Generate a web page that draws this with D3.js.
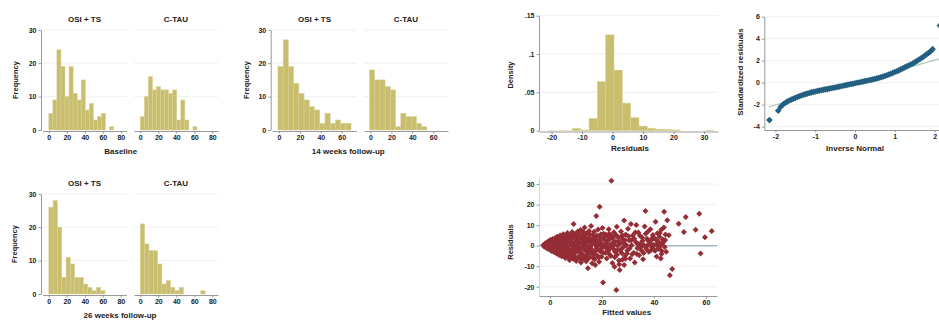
<!DOCTYPE html>
<html>
<head>
<meta charset="utf-8">
<script src="https://cdn.jsdelivr.net/npm/d3@7"></script>
<style>
  html, body { margin: 0; padding: 0; background: #fff; }
  svg { display: block; font-family: "Liberation Sans", Arial, sans-serif; font-weight: bold; }
</style>
</head>
<body>
<svg id="chart" width="939" height="323"></svg>
<script>
// ---------------- data ----------------
const groupNames = ["OSI + TS", "C-TAU"];
const freqTicks = [0, 10, 20, 30];

// frequency histograms: counts per bin, [bin start, bin width]
const baselineOsi = [5, 9, 24, 19, 10, 19, 11, 9, 15, 6, 8, 3, 4, 5, 0, 1];
const baselineCtau = [4, 10, 16, 12, 13, 12, 12, 11, 12, 3, 9, 3, 0, 1];
const baselineBins = [[0, 4.5], [0, 4.5]];
const baselineTicks = [0, 20, 40, 60, 80];

const week14Osi = [19, 27, 19, 14, 11, 9, 7, 6, 2, 5, 2, 3, 2, 2];
const week14Ctau = [18, 15, 15, 13, 12, 1, 5, 4, 4, 2, 1];
const week14Bins = [[-1, 5], [-1, 5]];
const week14Ticks = [0, 20, 40, 60];

const week26Osi = [26, 28, 20, 5, 11, 9, 5, 5, 3, 2, 1, 2, 1];
const week26Ctau = [21, 15, 13, 13, 9, 3, 4, 2, 1, 2, 0, 0, 0, 0, 1];
const week26Bins = [[0, 4.8], [0, 4.8]];
const week26Ticks = [0, 20, 40, 60, 80];

// density histogram of residuals
const residBinStart = -21.34;
const residBinWidth = 2.73;
const residDensity = [0.0004, 0.0004, 0.0006, 0.003, 0.001, 0.016, 0.064, 0.125, 0.079, 0.036,
                      0.017, 0.006, 0.003, 0.002, 0.0015, 0.001, 0, 0, 0, 0.0008];
const densityTicks = [0, 0.05, 0.1, 0.15];
const densityTickLabels = ["0", ".05", ".1", ".15"];
const residTicks = [-20, -10, 0, 10, 20, 30];

// normal probability plot: [inverse normal, standardized residual]
const qqPoints = [
  [-2.15, -3.4], [-1.93, -2.55], [-1.87, -2.2],
  [-1.80, -1.95], [-1.75, -1.82], [-1.70, -1.72], [-1.65, -1.62], [-1.60, -1.54], [-1.55, -1.46],
  [-1.50, -1.38], [-1.45, -1.30], [-1.40, -1.23], [-1.35, -1.16], [-1.30, -1.10], [-1.25, -1.04],
  [-1.20, -0.98], [-1.15, -0.93], [-1.10, -0.88], [-1.05, -0.84], [-1.00, -0.80], [-0.95, -0.76],
  [-0.90, -0.72], [-0.85, -0.68], [-0.80, -0.65], [-0.75, -0.61], [-0.70, -0.58], [-0.65, -0.54],
  [-0.60, -0.50], [-0.55, -0.47], [-0.50, -0.43], [-0.45, -0.40], [-0.40, -0.36], [-0.35, -0.32],
  [-0.30, -0.28], [-0.25, -0.24], [-0.20, -0.20], [-0.15, -0.16], [-0.10, -0.12], [-0.05, -0.09],
  [0.00, -0.05], [0.05, -0.01], [0.10, 0.02], [0.15, 0.06], [0.20, 0.10], [0.25, 0.14],
  [0.30, 0.18], [0.35, 0.22], [0.40, 0.26], [0.45, 0.30], [0.50, 0.34], [0.55, 0.39],
  [0.60, 0.44], [0.65, 0.49], [0.70, 0.55], [0.75, 0.61], [0.80, 0.68], [0.85, 0.75],
  [0.90, 0.82], [0.95, 0.89], [1.00, 0.97], [1.05, 1.04], [1.10, 1.12], [1.15, 1.21],
  [1.20, 1.30], [1.25, 1.39], [1.30, 1.48], [1.35, 1.57], [1.40, 1.66], [1.45, 1.75],
  [1.50, 1.85], [1.55, 1.96], [1.60, 2.08], [1.65, 2.20], [1.70, 2.32], [1.75, 2.45],
  [1.80, 2.58], [1.85, 2.71], [1.90, 2.85], [1.95, 3.05], [2.13, 5.2]
];
const qqLine = [[-2.17, -2.2], [2.3, 2.35]];
const qqXTicks = [-2, -1, 0, 1, 2];
const qqYTicks = [-4, -2, 0, 2, 4, 6];

// residuals versus fitted values: [fitted, residual]
const rvfPoints = [
  [-2.6, 0.3], [-2.2, -0.5], [-2.0, 0.9], [-1.8, -0.2], [-1.5, 1.3], [-1.4, -1.0], [-1.2, 0.4], [-1.0, 1.8],
  [-0.9, -1.5], [-0.7, 0.0], [-0.5, 2.2], [-0.4, -0.7], [-0.2, 1.0], [0.0, -2.0], [0.1, 2.8], [0.3, -0.3],
  [0.5, 1.5], [0.6, -2.6], [0.8, 0.6], [1.0, 3.2],
  [1.1, -1.4], [1.3, 2.1], [1.5, -3.1], [1.7, 0.2], [1.9, 3.6], [2.1, -0.9], [2.3, 1.4], [2.5, -3.8],
  [2.7, 4.3], [2.9, -2.0], [3.1, 0.8], [3.3, 2.7], [3.5, -4.5], [3.7, -0.4], [3.9, 4.9], [4.1, 1.9],
  [4.3, -2.9], [4.5, -5.2], [4.7, 3.4], [4.9, 0.0],
  [5.1, 5.6], [5.3, -1.7], [5.5, -4.0], [5.7, 2.2], [5.9, -6.0], [6.1, 0.9], [6.3, 4.4], [6.5, -2.9],
  [6.7, 6.2], [6.9, -0.6], [7.1, -5.3], [7.3, 2.9], [7.5, -7.0], [7.7, 1.3], [7.9, 5.0], [8.1, -3.6],
  [8.3, 0.2], [8.5, 6.7], [8.7, -1.9], [8.9, -6.4], [9.1, 3.8], [9.1, 10.6], [9.3, -4.6], [9.5, 1.1],
  [9.7, 5.8], [9.9, -0.9],
  [10.1, -7.4], [10.3, 2.5], [10.5, -3.0], [10.7, 6.9], [10.9, 0.4], [11.1, -5.4], [11.3, 4.0], [11.5, -1.6],
  [11.7, 7.6], [11.9, -8.2], [12.1, 1.8], [12.3, -3.9], [12.5, 5.1], [12.7, -0.3], [12.9, -6.3], [13.1, 3.0],
  [13.3, 8.8], [13.5, -2.2], [13.7, 0.9], [13.9, -7.6], [14.1, 5.9], [14.3, -4.4], [14.5, 2.1], [14.6, -11.0],
  [14.8, -0.9], [15.0, 7.2],
  [15.2, -5.8], [15.4, 3.5], [15.6, -2.6], [15.8, 9.6], [16.0, 0.6], [16.2, -8.6], [16.4, 5.3], [16.6, -3.8],
  [16.8, 1.7], [17.0, 6.8], [17.2, -6.6], [17.4, -9.4], [17.6, 3.0], [17.8, 14.5], [17.9, -1.2], [18.1, 4.9],
  [18.3, -4.9], [18.5, 7.9], [18.7, 0.3], [18.9, -7.8], [19.1, 19.0], [19.2, 2.6], [19.4, -2.8], [19.6, 5.6],
  [19.8, -5.4], [20.0, 1.0], [20.2, 8.6], [20.4, -17.9], [20.5, -3.4], [20.7, 3.9],
  [0.2, 0.9], [1.2, -0.4], [2.0, 2.5], [2.6, -1.8], [3.4, 1.1], [4.0, -1.3], [4.6, 1.0], [5.2, -2.8],
  [5.8, 3.5], [6.4, -0.8], [7.0, 2.0], [7.6, -2.5], [8.0, 3.7], [8.6, -4.6], [9.0, -0.4], [9.6, -3.0],
  [10.2, 4.5], [10.6, -1.2], [11.2, 1.6], [11.8, -4.8], [12.4, 3.5], [13.0, -1.6], [13.6, 5.0], [14.2, -2.8],
  [14.9, 3.6], [15.5, -0.5], [16.3, 2.6], [17.1, -4.0], [17.7, 0.5], [18.6, -2.0], [19.5, 0.7], [6.0, -4.8],
  [8.2, -6.0], [11.0, 6.0], [12.0, -6.8], [13.8, 2.4], [16.6, -6.0], [4.4, 3.0], [3.0, -3.4], [7.4, 4.6],
  [9.8, 1.9], [10.8, -5.8], [5.0, -0.6], [2.2, 0.0], [15.0, -3.9], [16.9, 4.0],
  [-1.6, 0.6], [-0.8, -0.9], [0.4, 1.9], [0.9, -1.8], [1.6, 1.0], [1.8, -2.4], [2.8, 2.0], [3.2, -1.2],
  [3.6, 3.6], [3.8, -2.2], [4.2, -3.8], [4.8, 4.2], [5.4, 1.2], [5.6, -5.2], [6.2, 2.9], [6.6, -3.6],
  [6.8, 5.2], [7.2, -1.6], [7.8, -4.4], [8.4, 1.8], [8.8, 5.0], [9.2, -2.6], [9.4, -5.8], [10.4, 0.0],
  [10.9, 3.2], [11.4, -2.8], [11.6, 5.0], [12.2, -0.9], [12.6, -4.6], [12.8, 6.8], [13.2, 1.6], [13.4, -5.2],
  [14.0, 3.2], [14.4, -0.4], [14.7, -6.2], [15.3, 5.6], [15.7, 1.2], [16.1, -2.0], [16.7, -4.8], [17.3, 1.0],
  [17.5, -2.6], [18.0, -0.5], [18.4, 2.2], [18.8, -5.6], [19.3, 4.0], [19.7, -1.5], [20.3, -0.2], [20.6, 5.8],
  [21.2, -0.8], [21.5, 5.4], [21.8, -6.2], [22.0, 2.2], [22.3, -2.6], [22.6, 8.0], [22.9, -4.3], [23.2, 0.6],
  [23.6, 31.6], [23.8, 4.6], [24.0, -8.4], [24.3, -1.4], [24.6, 6.5], [24.9, -5.6], [25.2, 2.0], [25.5, -21.6],
  [25.7, 9.2], [25.9, -2.2], [26.2, 4.0], [26.5, -7.2], [26.8, -11.9], [27.0, 1.2], [27.3, 6.9], [27.6, -3.6],
  [27.9, 3.0], [28.2, -0.8], [28.5, 12.2], [28.5, -9.4], [28.8, -5.0], [29.1, 5.4], [29.4, 0.2], [29.7, -2.4],
  [30.0, 8.2], [21.0, 2.8], [22.2, -1.0], [23.0, 3.2], [24.4, 1.8], [25.0, -3.0], [26.0, 0.0], [27.2, -1.8],
  [28.0, 4.8], [29.0, -6.4], [24.8, -10.2], [26.6, -9.0], [22.8, 5.8],
  [21.4, -3.5], [21.7, 1.0], [22.4, 4.2], [22.7, -2.0], [23.4, -5.0], [23.6, -0.2], [24.2, 3.8], [24.7, 0.4],
  [25.4, 5.2], [25.8, -4.4], [26.4, 2.0], [26.9, -2.4], [27.5, 4.6], [27.8, -6.8], [28.4, 1.2], [28.9, 2.8],
  [29.6, -3.8], [30.2, 4.6], [30.6, -1.4], [31.2, 2.6], [31.6, -4.2], [32.4, 3.4], [32.8, 6.4], [33.4, -4.0],
  [33.8, 0.8], [34.6, 4.8], [35.0, -0.6], [35.6, 2.4], [36.0, -3.6], [36.8, 5.8], [37.4, 0.0], [37.8, 2.4],
  [38.8, -2.2], [39.4, 3.8], [40.9, 2.8], [41.4, -0.2], [42.2, 6.2], [42.9, -4.0], [43.6, 1.8], [44.3, 2.8],
  [30.4, 2.6], [30.8, -6.2], [31.1, 10.6], [31.4, 0.2], [31.8, 5.0], [32.2, -3.4], [32.6, -8.2], [33.0, 1.8],
  [33.2, 10.1], [33.6, -1.2], [34.0, 6.4], [34.3, -4.6], [34.7, 1.0], [35.1, -2.2], [35.4, 4.0], [35.8, -6.6],
  [36.2, 0.2], [36.4, 9.3], [36.7, 16.9], [37.0, -1.6], [37.3, 3.4], [37.6, 6.8], [38.0, -3.0],
  [38.3, 1.0], [38.6, 8.0], [39.0, 2.6], [39.2, -0.8], [39.6, 5.2], [40.0, -2.0], [40.2, 3.6], [40.6, 11.7],
  [40.8, 0.4], [41.0, -5.3], [41.3, 6.0], [41.6, 2.0], [41.8, -1.5], [42.1, 4.4], [42.4, -0.2], [42.6, -6.2],
  [42.8, 7.8], [43.1, 1.0], [43.4, 3.0], [43.8, 8.8], [43.9, 16.5], [44.1, -0.6], [44.4, 5.5], [44.7, -3.0],
  [45.1, 12.4], [45.7, 5.1], [46.1, -14.4], [47.0, -11.4], [40.4, -2.5], [39.8, 0.5], [42.0, 1.2], [43.0, -2.6],
  [49.5, 10.7], [51.5, 6.7], [52.2, 14.0], [56.0, 7.8], [57.4, 15.6], [57.9, -3.8], [59.6, 4.1], [62.2, 7.1]
];
const fittedTicks = [0, 20, 40, 60];
const rvfResidTicks = [-20, -10, 0, 10, 20, 30];

// ---------------- drawing ----------------
const svg = d3.select("#chart");
const C = {
  bar: "#c9bd6e", barEdge: "#dad198", axis: "#808080", grid: "#ececec",
  text: "#222", qq: "#235f80", qqLine: "#9fbba9", rvf: "#952d36", zero: "#a7b8c4"
};

function styleAxis(sel, fontSize) {
  sel.attr("font-family", null).attr("font-size", null);
  sel.select(".domain").attr("stroke", C.axis).attr("stroke-width", 0.8);
  sel.selectAll(".tick line").attr("stroke", C.axis).attr("stroke-width", 0.8);
  sel.selectAll(".tick text").attr("fill", C.text)
     .style("font-size", fontSize + "px").style("font-weight", "bold");
}

function label(x, y, text, size, rotate) {
  const t = svg.append("text")
    .attr("text-anchor", "middle").attr("fill", C.text)
    .style("font-size", size + "px").style("font-weight", "bold").text(text);
  if (rotate) t.attr("transform", `translate(${x},${y}) rotate(-90)`);
  else t.attr("x", x).attr("y", y);
  return t;
}

function diamond(r) {
  return `M0,${-r}L${r},0L0,${r}L${-r},0Z`;
}

function frequencyPanel(p) {
  const y = d3.scaleLinear().domain([0, 30]).range([p.y0, p.y0 - 100.2]);
  const ya = svg.append("g").attr("transform", `translate(${p.axisX},0)`)
    .call(d3.axisLeft(y).tickValues(freqTicks).tickSize(2.5).tickPadding(2).tickSizeOuter(0));
  styleAxis(ya, 7);

  p.subplots.forEach((sp, i) => {
    const x = d3.scaleLinear().domain(p.xDomain).range([sp.left, sp.left + p.width]);
    svg.append("g").selectAll("line").data(freqTicks.filter(t => t > 0)).join("line")
      .attr("x1", sp.left).attr("x2", sp.left + p.width)
      .attr("y1", d => y(d)).attr("y2", d => y(d))
      .attr("stroke", C.grid).attr("stroke-width", 0.8);
    const [start, w] = sp.bins;
    const bars = sp.counts.map((c, k) => ({ c, k })).filter(d => d.c > 0);
    svg.append("g").selectAll("rect").data(bars).join("rect")
      .attr("x", d => x(start + d.k * w))
      .attr("width", d => x(start + (d.k + 1) * w) - x(start + d.k * w))
      .attr("y", d => y(d.c))
      .attr("height", d => y(0) - y(d.c))
      .attr("fill", C.bar).attr("stroke", C.barEdge).attr("stroke-width", 0.5);
    const xa = svg.append("g").attr("transform", `translate(0,${p.y0 + 1})`)
      .call(d3.axisBottom(x).tickValues(p.xTicks).tickSize(2.5).tickPadding(1.5).tickSizeOuter(0));
    styleAxis(xa, 7);
    label(sp.left + p.width / 2, y(30) - 8, groupNames[i], 8);
  });
  label(p.xTitleX, p.y0 + 24, p.xTitle, 8);
  label(p.yTitleX, p.y0 - 50, "Frequency", 7.5, true);
}

frequencyPanel({
  y0: 130, axisX: 41, xDomain: [-7, 86.33], width: 84, xTicks: baselineTicks,
  subplots: [
    { left: 42.5, counts: baselineOsi, bins: baselineBins[0] },
    { left: 134, counts: baselineCtau, bins: baselineBins[1] }
  ],
  xTitle: "Baseline", xTitleX: 120.7, yTitleX: 17.7
});

frequencyPanel({
  y0: 130, axisX: 270.7, xDomain: [-6.2, 74.2], width: 84, xTicks: week14Ticks,
  subplots: [
    { left: 272.5, counts: week14Osi, bins: week14Bins[0] },
    { left: 364, counts: week14Ctau, bins: week14Bins[1] }
  ],
  xTitle: "14 weeks follow-up", xTitleX: 348.3, yTitleX: 249.4
});

frequencyPanel({
  y0: 294, axisX: 41, xDomain: [-7, 86.33], width: 84, xTicks: week26Ticks,
  subplots: [
    { left: 42.5, counts: week26Osi, bins: week26Bins[0] },
    { left: 134, counts: week26Ctau, bins: week26Bins[1] }
  ],
  xTitle: "26 weeks follow-up", xTitleX: 120, yTitleX: 16.7
});

// ---- density of residuals ----
(function () {
  const x = d3.scaleLinear().domain([-24.1, 34.6]).range([539, 718]);
  const y = d3.scaleLinear().domain([0, 0.15]).range([130.7, 15.7]);
  svg.append("g").selectAll("line").data(densityTicks.filter(t => t > 0)).join("line")
    .attr("x1", 539).attr("x2", 718).attr("y1", d => y(d)).attr("y2", d => y(d))
    .attr("stroke", C.grid).attr("stroke-width", 0.8);
  const bars = residDensity.map((v, k) => ({ v, k })).filter(d => d.v > 0);
  svg.append("g").selectAll("rect").data(bars).join("rect")
    .attr("x", d => x(residBinStart + d.k * residBinWidth))
    .attr("width", d => x(residBinStart + (d.k + 1) * residBinWidth) - x(residBinStart + d.k * residBinWidth))
    .attr("y", d => y(d.v)).attr("height", d => y(0) - y(d.v))
    .attr("fill", C.bar).attr("stroke", d => d.v < 0.001 ? "none" : C.barEdge).attr("stroke-width", 0.5);
  const ya = svg.append("g").attr("transform", "translate(539,0)")
    .call(d3.axisLeft(y).tickValues(densityTicks).tickFormat((d, i) => densityTickLabels[i])
      .tickSize(2.5).tickPadding(2).tickSizeOuter(0));
  styleAxis(ya, 7);
  const xa = svg.append("g").attr("transform", "translate(0,131.5)")
    .call(d3.axisBottom(x).tickValues(residTicks).tickFormat(d => String(d))
      .tickSize(2.5).tickPadding(1.5).tickSizeOuter(0));
  styleAxis(xa, 7);
  label(630, 150.5, "Residuals", 8);
  label(513, 75, "Density", 7.5, true);
})();

// ---- normal probability plot ----
(function () {
  const x = d3.scaleLinear().domain([-2.279, 2.261]).range([764.3, 945]);
  const y = d3.scaleLinear().domain([-4.3, 6]).range([130, 16.7]);
  svg.append("g").selectAll("line").data(qqYTicks).join("line")
    .attr("x1", 764.3).attr("x2", 945).attr("y1", d => y(d)).attr("y2", d => y(d))
    .attr("stroke", C.grid).attr("stroke-width", 0.8);
  svg.append("line")
    .attr("x1", x(qqLine[0][0])).attr("y1", y(qqLine[0][1]))
    .attr("x2", x(qqLine[1][0])).attr("y2", y(qqLine[1][1]))
    .attr("stroke", C.qqLine).attr("stroke-width", 1);
  svg.append("g").selectAll("path").data(qqPoints).join("path")
    .attr("d", diamond(3.3))
    .attr("transform", d => `translate(${x(d[0])},${y(d[1])})`)
    .attr("fill", C.qq);
  const ya = svg.append("g").attr("transform", "translate(764.3,0)")
    .call(d3.axisLeft(y).tickValues(qqYTicks).tickFormat(d => String(d))
      .tickSize(2.5).tickPadding(2).tickSizeOuter(0));
  styleAxis(ya, 7);
  const xa = svg.append("g").attr("transform", "translate(0,130)")
    .call(d3.axisBottom(x).tickValues(qqXTicks).tickFormat(d => String(d))
      .tickSize(2.5).tickPadding(1.5).tickSizeOuter(0));
  styleAxis(xa, 7);
  label(855, 150.5, "Inverse Normal", 8);
  label(743, 72, "Standardized residuals", 8, true);
})();

// ---- residuals versus fitted values ----
(function () {
  const x = d3.scaleLinear().domain([-4.23, 64.23]).range([539, 717]);
  const y = d3.scaleLinear().domain([-24.5, 33]).range([296, 177.9]);
  svg.append("g").selectAll("line").data(rvfResidTicks.filter(t => t !== 0)).join("line")
    .attr("x1", 539).attr("x2", 717).attr("y1", d => y(d)).attr("y2", d => y(d))
    .attr("stroke", C.grid).attr("stroke-width", 0.8);
  svg.append("line")
    .attr("x1", 539).attr("x2", 717).attr("y1", y(0)).attr("y2", y(0))
    .attr("stroke", C.zero).attr("stroke-width", 1.5);
  svg.append("g").selectAll("path").data(rvfPoints).join("path")
    .attr("d", diamond(3.0))
    .attr("transform", d => `translate(${x(d[0])},${y(d[1])})`)
    .attr("fill", C.rvf);
  const ya = svg.append("g").attr("transform", "translate(539,0)")
    .call(d3.axisLeft(y).tickValues(rvfResidTicks).tickFormat(d => String(d))
      .tickSize(2.5).tickPadding(2).tickSizeOuter(0));
  styleAxis(ya, 7);
  ya.select(".domain").attr("stroke", "#c8c8c8");
  const xa = svg.append("g").attr("transform", "translate(0,296)")
    .call(d3.axisBottom(x).tickValues(fittedTicks).tickFormat(d => String(d))
      .tickSize(2.5).tickPadding(1.5).tickSizeOuter(0));
  styleAxis(xa, 7);
  label(626.7, 314.5, "Fitted values", 8);
  label(513, 242, "Residuals", 7.5, true);
})();
</script>
</body>
</html>
